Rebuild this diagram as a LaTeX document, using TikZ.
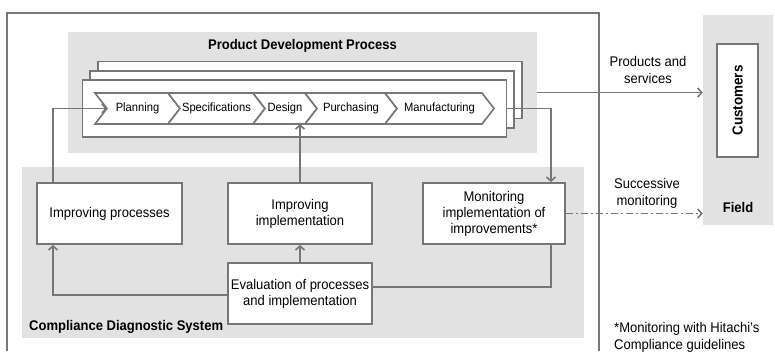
\documentclass[tikz,border=0pt]{standalone}
\usepackage{fontspec}
\setmainfont{Liberation Sans}[FakeStretch=0.93]
\usetikzlibrary{arrows.meta, positioning}
\definecolor{linegray}{RGB}{118,118,118}
\definecolor{areagray}{RGB}{225,226,225}
\tikzset{
    area/.style={rectangle, fill=areagray, draw=none},
    box/.style={rectangle, draw=linegray, line width=1.9pt, fill=white, minimum width=144pt, minimum height=61pt, align=center, inner sep=2pt, font=\fontsize{14}{16}\selectfont},
    stack/.style={rectangle, draw=linegray, line width=1.9pt, fill=white, minimum width=424pt, minimum height=57pt},
    chevron/.style={draw=linegray, line width=1.6pt, fill=white},
    steplabel/.style={inner sep=0pt, font=\fontsize{12}{14}\selectfont},
    heading/.style={inner sep=0pt, font=\bfseries\fontsize{14}{17}\selectfont},
    note/.style={inner sep=0pt, align=center, font=\fontsize{14}{17}\selectfont},
    arrow/.style={-{Straight Barb[length=4pt, width=9pt, line width=1.6pt]}, draw=linegray, line width=1.9pt},
    line/.style={draw=linegray, line width=1.9pt},
    dashdotarrow/.style={arrow, dash pattern=on 7pt off 3pt on 2pt off 3pt}
}

\begin{document}
\begin{tikzpicture}[x=1pt, y=-1pt]
    \useasboundingbox (0,0) rectangle (775,351);

    % Grey areas
    \node[area, minimum width=469pt, minimum height=121pt] (pdp) at (302.5,92.5) {};
    \node[area, minimum width=562pt, minimum height=171pt] (cds) at (303,252.5) {};
    \node[area, minimum width=70pt, minimum height=210pt] (field) at (738,120) {};

    % Company frame, open at the bottom
    \draw[line] (7,351) -- (7,13) -- (599,13) -- (599,351);

    % Headings
    \node[heading, below=7pt of pdp.north] (pdptitle) {Product Development Process};
    \node[heading, anchor=west] (cdstitle) at (29,327) {Compliance Diagnostic System};
    \node[heading] (fieldtitle) at (738,207) {Field};

    % Stacked process sheets
    \node[stack] (back) at (310,90) {};
    \node[stack] (mid) at (302,99.5) {};
    \node[stack] (front) at (294.5,108.5) {};

    % Process steps
    \foreach \a/\b/\name/\txt in {95/168/plan/Planning, 168/253/spec/Specifications, 253/305/design/Design, 305/385/purch/Purchasing, 385/482/manuf/Manufacturing} {
        \draw[chevron] (\a,93) -- (\b,93) -- (\b+12,108.5) -- (\b,124) -- (\a,124) -- (\a+12,108.5) -- cycle;
        \node[steplabel] (\name) at ({(\a+\b)/2+6},108.5) {\txt};
    }
    \coordinate (planin) at (107,108.5);

    % Diagnostic system boxes
    \node[box, minimum width=145pt] (improc) at (109.5,213.5) {Improving processes};
    \node[box] (impimp) at (300,213.5) {Improving\\implementation};
    \node[box, minimum width=142pt] (monit) at (494,213.5) {Monitoring\\implementation of\\improvements*};
    \node[box] (eval) at (300,293.5) {Evaluation of processes\\and implementation};

    % Customers
    \node[box, rotate=90, minimum width=113pt, minimum height=41pt, font=\bfseries\fontsize{14.5}{17}\selectfont] (cust) at (737.5,100.5) {Customers};

    % Labels
    \node[note] (prodlbl) at (648,70) {Products and\\services};
    \node[note] (monlbl) at (647,193) {Successive\\monitoring};
    \node[note, align=left, anchor=north west] (footnote) at (614,322) {*Monitoring with Hitachi's\\Compliance guidelines};

    % Connectors
    \draw[arrow] ([xshift=-56.5pt]improc.north) |- (planin);
    \draw[arrow] (impimp.north) -- ++(0,-58);
    \draw[arrow] (eval.north) -- (impimp.south);
    \draw[arrow] ([yshift=-1.5pt]eval.west) -| ([xshift=-56.5pt]improc.south);
    \draw[line] ([yshift=6.5pt]eval.east) -| ([xshift=57pt]monit.south);
    \draw[arrow] (front.east) -| ([xshift=57pt]monit.north);
    \draw[arrow] (pdp.east) -- (pdp.east -| field.west);
    \draw[dashdotarrow] (monit.east) -- (monit.east -| field.west);
\end{tikzpicture}
\end{document}
